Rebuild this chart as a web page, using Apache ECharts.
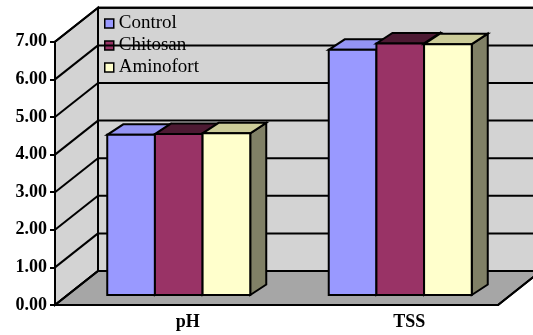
<!DOCTYPE html>
<html>
<head>
<meta charset="utf-8">
<script src="https://cdn.jsdelivr.net/npm/echarts@6/dist/echarts.min.js"></script>
<style>html,body{margin:0;padding:0;background:#fff;}#c{width:533px;height:335px;}</style>
</head>
<body>
<div id="c"></div>
<script>
const categories = ['pH', 'TSS'];
const seriesNames = ['Control', 'Chitosan', 'Aminofort'];
const control = [4.26, 6.52];
const chitosan = [4.28, 6.69];
const aminofort = [4.30, 6.67];
const yTickValues = [0, 1, 2, 3, 4, 5, 6, 7];

const valuesBySeries = [control, chitosan, aminofort];
const frontColors = ['#9999ff', '#993366', '#ffffcc'];
const topColors = ['#9494f5', '#4d1a33', '#cccc99'];
const sideColors = ['#4d4d80', '#4d1a33', '#808066'];

const DX = 43, DY = -34;      // full depth of walls/floor
const BX = 13, BY = -10;      // bar front plane offset
const DDX = 16, DDY = -10.5;  // bar depth
const YMAX = 7;
const LW = 2;

function wallsRender(params, api) {
  const cs = params.coordSys;
  const x0 = cs.x, x1 = cs.x + cs.width;
  const y0 = api.coord([0, 0])[1];
  const y7 = api.coord([0, YMAX])[1];
  const st = {stroke: '#000', lineWidth: LW, lineJoin: 'miter'};
  return {
    type: 'group',
    children: [
      {type: 'polygon', shape: {points: [[x0 + DX, y0 + DY], [x0 + DX, y7 + DY], [x1 + DX, y7 + DY], [x1 + DX, y0 + DY]]},
        style: Object.assign({fill: '#d3d3d3'}, st)},
      {type: 'polygon', shape: {points: [[x0, y0], [x0, y7], [x0 + DX, y7 + DY], [x0 + DX, y0 + DY]]},
        style: Object.assign({fill: '#d3d3d3'}, st)},
      {type: 'polygon', shape: {points: [[x0, y0], [x1, y0], [x1 + DX, y0 + DY], [x0 + DX, y0 + DY]]},
        style: Object.assign({fill: '#a6a6a6'}, st)}
    ]
  };
}

function gridRender(params, api) {
  const cs = params.coordSys;
  const x0 = cs.x, x1 = cs.x + cs.width;
  const children = [];
  const st = {stroke: '#000', lineWidth: LW};
  yTickValues.forEach(v => {
    const y = api.coord([0, v])[1];
    children.push({type: 'line', shape: {x1: x0 + DX, y1: y + DY, x2: x1 + DX, y2: y + DY}, style: st});
    children.push({type: 'line', shape: {x1: x0, y1: y, x2: x0 + DX, y2: y + DY}, style: st});
  });
  const y0 = api.coord([0, 0])[1];
  const y7 = api.coord([0, YMAX])[1];
  children.push({type: 'line', shape: {x1: x0 + DX, y1: y0 + DY, x2: x0 + DX, y2: y7 + DY}, style: st});
  children.push({type: 'polyline', shape: {points: [[x0, y0], [x1, y0], [x1 + DX, y0 + DY]]}, style: {stroke: '#000', lineWidth: LW, fill: null}});
  return {type: 'group', children: children};
}

function barRenderFactory(sIdx) {
  return function (params, api) {
    const cat = api.value(0);
    const val = api.value(1);
    const c = api.coord([cat, val]);
    const b = api.coord([cat, 0]);
    const band = api.size([1, 0])[0];
    const bw = band * 0.2152;
    const left = c[0] - 1.5 * bw + sIdx * bw + BX;
    const right = left + bw;
    const top = c[1] + BY;
    const bottom = b[1] + BY;
    const st = {stroke: '#000', lineWidth: LW, lineJoin: 'miter'};
    return {
      type: 'group',
      children: [
        {type: 'polygon', shape: {points: [[right, top], [right + DDX, top + DDY], [right + DDX, bottom + DDY], [right, bottom]]},
          style: Object.assign({fill: sideColors[sIdx]}, st)},
        {type: 'polygon', shape: {points: [[left, top], [right, top], [right + DDX, top + DDY], [left + DDX, top + DDY]]},
          style: Object.assign({fill: topColors[sIdx]}, st)},
        {type: 'rect', shape: {x: left, y: top, width: bw, height: bottom - top},
          style: Object.assign({fill: frontColors[sIdx]}, st)}
      ]
    };
  };
}

const chart = echarts.init(document.getElementById('c'), null, {renderer: 'canvas'});

const series = [
  {type: 'custom', name: '_walls', z: 1, silent: true, data: [[0, 0]], renderItem: wallsRender, encode: {x: 0, y: 1}},
  {type: 'custom', name: '_grid', z: 5, silent: true, data: [[0, 0]], renderItem: gridRender, encode: {x: 0, y: 1}}
];
seriesNames.forEach((name, i) => {
  series.push({
    type: 'custom', name: name, z: 6,
    itemStyle: {color: frontColors[i], borderColor: '#000', borderWidth: 1.5},
    data: valuesBySeries[i].map((v, k) => [k, v]),
    encode: {x: 0, y: 1},
    renderItem: barRenderFactory(i)
  });
});

chart.setOption({
  animation: false,
  backgroundColor: '#fff',
  grid: {left: 55, right: 35, top: 41.8, bottom: 30, containLabel: false},
  legend: {
    data: seriesNames,
    orient: 'vertical',
    left: 99, top: 9,
    itemWidth: 9, itemHeight: 9, itemGap: 3,
    selectedMode: false,
    icon: 'rect',
    itemStyle: {borderColor: '#000', borderWidth: 1.5},
    textStyle: {fontFamily: 'Liberation Serif', fontSize: 19, color: '#000'},
    z: 3
  },
  xAxis: {
    type: 'category',
    data: categories,
    boundaryGap: true,
    axisLine: {show: false},
    axisTick: {show: false},
    splitLine: {show: false},
    axisLabel: {fontFamily: 'Liberation Serif', fontWeight: 'bold', fontSize: 18, color: '#000', margin: 8, padding: [0, 0, 0, 44]}
  },
  yAxis: {
    type: 'value',
    min: 0, max: 7, interval: 1,
    z: 7,
    axisLine: {show: true, lineStyle: {color: '#000', width: 2}},
    axisTick: {show: true, length: 5, lineStyle: {color: '#000', width: 2}},
    splitLine: {show: false},
    axisLabel: {formatter: v => v.toFixed(2), fontFamily: 'Liberation Serif', fontWeight: 'bold', fontSize: 18, color: '#000', margin: 8}
  },
  series: series
});
</script>
</body>
</html>
